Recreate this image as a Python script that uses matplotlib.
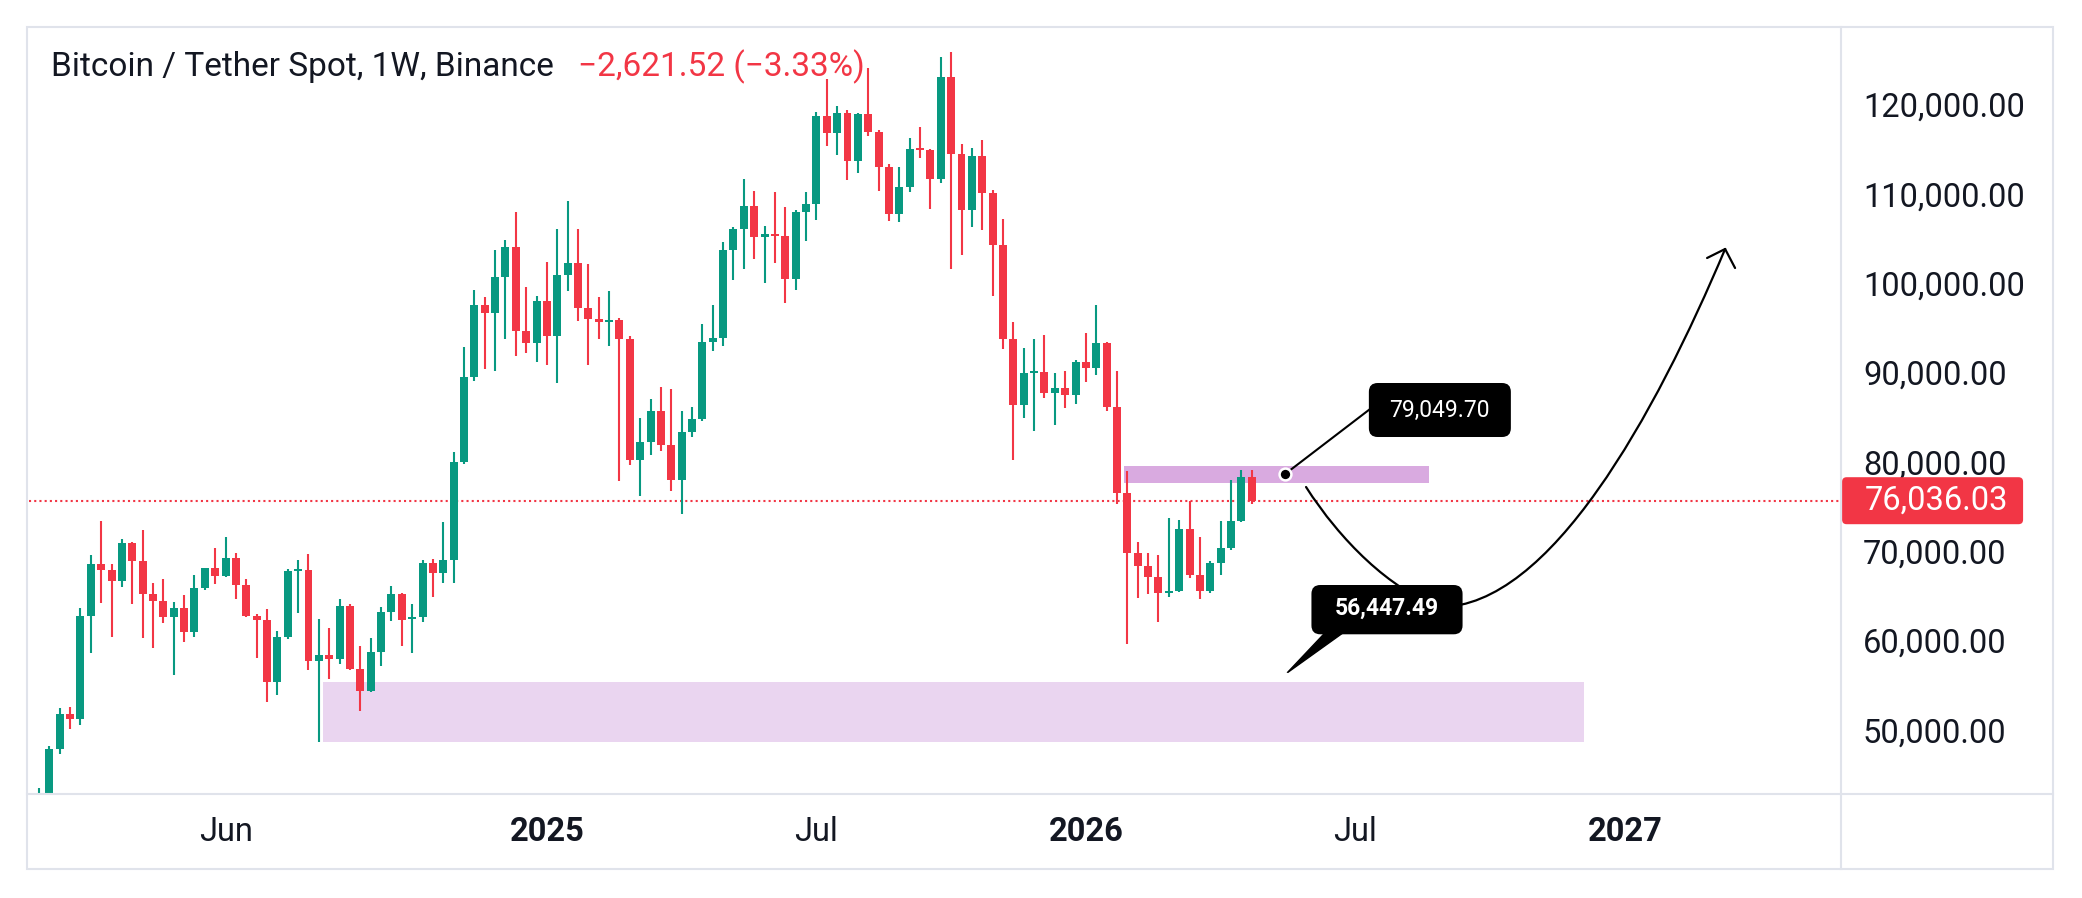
import matplotlib
matplotlib.use('Agg')
import matplotlib.pyplot as plt
import numpy as np
import pandas as pd
from matplotlib.patches import FancyBboxPatch, Polygon, PathPatch, Rectangle
from matplotlib.path import Path
from matplotlib.lines import Line2D

plt.rcParams['font.family'] = ['Roboto', 'DejaVu Sans']

# ---------------- data (weekly BTC/USDT, Binance) ----------------
START = '2024-01-29'
opens = [41800, 42580, 48230, 52150, 51625, 63120, 68945, 68310, 67080, 71300,
         69320, 65625, 64840, 63050, 64020, 61370, 66260, 68500, 67600, 69620,
         66600, 63120, 62680, 55720, 60760, 68160, 68300, 58080, 58760, 58320,
         64240, 57200, 54720, 59080, 63560, 65600, 62800, 63000, 69080, 67960,
         69350, 80370, 89885, 97950, 97090, 101085, 104445, 95075, 93730, 98400,
         94515, 101310, 102655, 97650, 96420, 96085, 96300, 94180, 80630, 82605,
         86075, 82310, 78390, 83725, 85180, 93805, 94250, 104105, 106460, 109035,
         105600, 105900, 105700, 100900, 108365, 109260, 119115, 117250, 119450, 114075,
         119340, 117320, 113400, 108140, 111160, 115420, 115300, 112060, 123480, 114860,
         108590, 114635, 110490, 104665, 94140, 86750, 90330, 90500, 88090, 88655,
         87870, 91565, 90895, 93695, 86525, 76935, 70215, 68760, 67525, 65735,
         65950, 72865, 67750, 65960, 69055, 70735, 73760, 78657.55]
highs = [43900, 48565, 52820, 52930, 64020, 69955, 73760, 68945, 71745, 71400,
         72755, 66820, 67265, 64690, 65475, 67715, 68550, 70740, 71970, 70180,
         67280, 63400, 63920, 61440, 68400, 69400, 70080, 62800, 61800, 65040,
         64480, 59760, 60680, 64120, 66480, 65700, 64480, 69400, 69520, 73610,
         81490, 93245, 99630, 98845, 104110, 105230, 108365, 99965, 98955, 102765,
         106460, 109595, 106460, 102540, 98845, 99520, 96495, 94480, 85295, 87420,
         88765, 88540, 86115, 86525, 95820, 97945, 105005, 106685, 112060, 110715,
         106795, 110605, 108920, 108585, 110605, 119560, 123255, 120235, 119785, 119400,
         124490, 117545, 113740, 113400, 116650, 117880, 115420, 125720, 126280, 115980,
         115530, 116425, 110825, 107580, 96045, 93130, 94140, 94590, 90335, 90560,
         91790, 94815, 97950, 93800, 90560, 79360, 71410, 70180, 69955, 74095,
         73870, 76035, 71970, 69280, 73760, 78350, 79470, 79470]
lows = [41700, 42500, 47670, 50470, 50915, 59015, 64615, 60810, 66410, 64505,
        60695, 59575, 62375, 56550, 60250, 60810, 66035, 66705, 67500, 65025,
        63050, 58440, 53480, 54280, 60600, 63480, 57080, 48965, 56080, 57760,
        57100, 52480, 54600, 57520, 62560, 59760, 59000, 62440, 65240, 66800,
        66835, 80200, 89475, 90780, 90595, 94180, 92275, 92610, 91605, 91270,
        89250, 99555, 96195, 91270, 94180, 93395, 78275, 80070, 76595, 81185,
        81635, 77155, 74580, 83200, 84950, 92835, 93395, 100785, 102015, 103135,
        100450, 102690, 98210, 99665, 105150, 107505, 115790, 114785, 111945, 112730,
        116875, 110715, 107355, 107245, 110605, 114410, 108700, 111610, 101980, 103545,
        106685, 106345, 98955, 93020, 80590, 85295, 83835, 87530, 84510, 86415,
        86865, 89325, 90110, 86080, 75700, 60025, 65175, 65620, 62485, 65285,
        65800, 67415, 65060, 65735, 67750, 70550, 73600, 75700]
closes = [42580, 48230, 52150, 51625, 63120, 68945, 68310, 67080, 71300, 69320,
          65625, 64840, 63050, 64020, 61370, 66260, 68500, 67600, 69620, 66600,
          63120, 62680, 55720, 60760, 68160, 68300, 58080, 58760, 58320, 64240,
          57200, 54720, 59080, 63560, 65600, 62680, 63000, 69080, 67960, 69350,
          80370, 89885, 97950, 97090, 101085, 104445, 95075, 93730, 98400, 94515,
          101310, 102655, 97650, 96420, 96085, 96300, 94180, 80630, 82605, 86075,
          82310, 78390, 83725, 85180, 93805, 94250, 104105, 106460, 109035, 105600,
          105900, 105700, 100900, 108365, 109260, 119115, 117250, 119450, 114075, 119340,
          117320, 113400, 108140, 111160, 115420, 115300, 112060, 123480, 114860, 108590,
          114635, 110490, 104665, 94140, 86750, 90330, 90500, 88090, 88655, 87870,
          91565, 90895, 93695, 86525, 76935, 70215, 68760, 67525, 65735, 65950,
          72865, 67750, 65960, 69055, 70735, 73760, 78657.55, 76036.03]

last_price = 76036.03
change_text = "\u22122,621.52 (\u22123.33%)"
title_text = "Bitcoin / Tether Spot, 1W, Binance"

y_ticks = [50000, 60000, 70000, 80000, 90000, 100000, 110000, 120000]
tick_dates = ['2024-06-03', '2025-01-06', '2025-07-07', '2026-01-05', '2026-07-06', '2027-01-04']
tick_labels = ['Jun', '2025', 'Jul', '2026', 'Jul', '2027']
tick_bold = [False, True, False, True, False, True]

# drawings (price levels / week positions)
zone_low = (27.4, 149.1, 49015, 55700)      # x0, x1, y0, y1
zone_high = (104.7, 134.1, 78050, 79900)
label_hi_value = "79,049.70"
label_lo_value = "56,447.49"
pt_hi = (120.25, 79049.70)
pt_lo = (120.25, 56447.49)

# ---------------- styling ----------------
GREEN = '#089981'
RED = '#F23645'
TXT = '#131722'
BORDER = '#E0E3EB'
W_PX, H_PX = 2082, 898

fig = plt.figure(figsize=(W_PX / 100, H_PX / 100), dpi=100)
fig.patch.set_facecolor('white')

def fx(x):
    return x / W_PX

def fy(y):
    return 1 - y / H_PX

ax = fig.add_axes([fx(29), fy(793), (1841 - 29) / W_PX, (793 - 27) / H_PX])
for s in ax.spines.values():
    s.set_visible(False)
ax.set_facecolor('white')

O = np.array(opens, float)
H = np.array(highs, float)
L = np.array(lows, float)
C = np.array(closes, float)
n = len(O)
x = np.arange(n)

ax.set_xlim(-0.965, 173.85)
ax.set_ylim(43305, 129081)

# zones
for (x0, x1, y0, y1), col in [(zone_low, '#EAD5F0'), (zone_high, '#D9AAE0')]:
    ax.add_patch(Rectangle((x0, y0), x1 - x0, y1 - y0, facecolor=col, edgecolor='none', zorder=1))

# last price line
ax.axhline(last_price, color=RED, lw=1.5, ls=(0, (1, 1.5)), zorder=2)

# candles
cols = np.where(C >= O, GREEN, RED)
ax.vlines(x, L, H, colors=cols, lw=1.5, zorder=3)
ax.bar(x, np.maximum(np.abs(C - O), 180), bottom=np.minimum(O, C), width=0.77,
       color=cols, linewidth=0, zorder=3.1)

# curved path with arrow
curve_v = [(122.24, 77570), (125.52, 71635), (130.34, 66036), (135.17, 64132),
           (145.78, 64132), (155.91, 85633), (162.67, 104222)]
codes = [Path.MOVETO] + [Path.CURVE4] * 6
ax.add_patch(PathPatch(Path(curve_v, codes), facecolor='none', edgecolor='black',
                       lw=1.6, zorder=4, capstyle='round'))
tip = curve_v[-1]
for wing in [(160.93, 103214), (163.63, 102094)]:
    ax.plot([tip[0], wing[0]], [tip[1], wing[1]], color='black', lw=1.6,
            solid_capstyle='round', zorder=4)

ASPECT = 10.365 * 111.98

# upper callout
ax.plot([pt_hi[0], 128.3], [pt_hi[1], 86199], color='black', lw=1.5, zorder=5)
ax.add_patch(FancyBboxPatch((128.3, 83169), 142.0 - 128.3, 89216 - 83169,
                            boxstyle='round,pad=0,rounding_size=0.85',
                            mutation_aspect=ASPECT, facecolor='black',
                            edgecolor='none', zorder=6))
ax.text(135.15, 86190, label_hi_value, color='white', fontsize=16.5,
        ha='center', va='center', zorder=7)
ax.plot([pt_hi[0]], [pt_hi[1]], marker='o', ms=8.5, mfc='black', mec='white',
        mew=1.8, zorder=6)

# lower callout
ax.add_patch(Polygon([(124.03, 61200), (125.76, 61200), (120.4, 56742)],
                     closed=True, facecolor='black', edgecolor='black', lw=1, zorder=6))
ax.add_patch(FancyBboxPatch((122.76, 61076), 137.34 - 122.76, 66596 - 61076,
                            boxstyle='round,pad=0,rounding_size=0.85',
                            mutation_aspect=ASPECT, facecolor='black',
                            edgecolor='none', zorder=6))
ax.text(130.05, 64000, label_lo_value, color='white', fontsize=16.5,
        fontweight='bold', ha='center', va='center', zorder=7)
ax.plot([pt_lo[0]], [pt_lo[1]], marker='o', ms=6, mfc='white', mec='white',
        mew=0, zorder=6)

# axes ticks
ax.yaxis.tick_right()
ax.set_yticks(y_ticks)
ax.set_yticklabels([f'{v:,.2f}' for v in y_ticks])
ax.tick_params(axis='y', length=0, pad=15.8, labelsize=23.5, labelcolor=TXT)
for lab in ax.get_yticklabels():
    lab.set_va('center')

start = pd.Timestamp(START)
xt = [(pd.Timestamp(d) - start).days / 7 for d in tick_dates]
ax.set_xticks(xt)
ax.set_xticklabels(tick_labels)
ax.tick_params(axis='x', length=0, pad=16.8, labelsize=23.5, labelcolor=TXT)
for lab, b in zip(ax.get_xticklabels(), tick_bold):
    if b:
        lab.set_fontweight('bold')

# price tag on the axis
ytr = ax.get_yaxis_transform()
ax_w = 1841 - 29
tag_h = 47 * 111.98
ax.add_patch(FancyBboxPatch((1.0006, last_price - tag_h / 2), (2023 - 1842) / ax_w, tag_h,
                            boxstyle='round,pad=0,rounding_size=0.0025',
                            mutation_aspect=111.98 * ax_w, transform=ytr,
                            facecolor=RED, edgecolor='none', clip_on=False, zorder=8))
ax.text((1865 - 29) / ax_w, last_price, f'{last_price:,.2f}', transform=ytr,
        color='white', fontsize=23.5, ha='left', va='center', zorder=9, clip_on=False)

# frame
fig.add_artist(Rectangle((fx(27), fy(869)), (2053 - 27) / W_PX, (869 - 27) / H_PX,
                         fill=False, edgecolor=BORDER, lw=1.5, transform=fig.transFigure))
fig.add_artist(Line2D([fx(1841), fx(1841)], [fy(27), fy(869)], color=BORDER, lw=1.5,
                      transform=fig.transFigure))
fig.add_artist(Line2D([fx(27), fx(2053)], [fy(794), fy(794)], color=BORDER, lw=1.5,
                      transform=fig.transFigure))

# title
t1 = fig.text(fx(51), fy(67), title_text, color=TXT, fontsize=24, ha='left', va='center')
fig.canvas.draw()
bb = t1.get_window_extent()
fig.text((bb.x1 + 24) / W_PX, fy(67), change_text, color=RED, fontsize=24,
         ha='left', va='center')

fig.savefig('out.png', dpi=100, facecolor='white')
